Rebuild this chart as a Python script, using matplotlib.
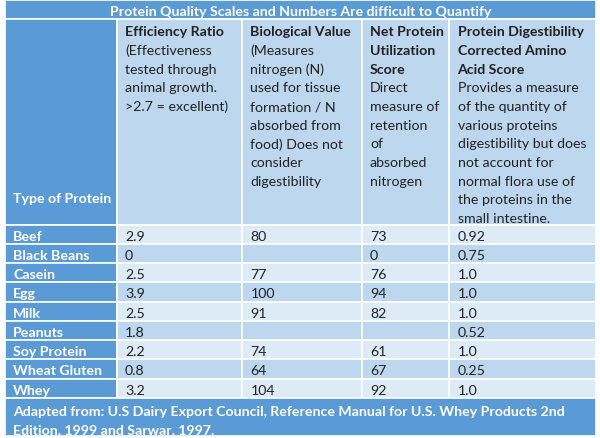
import matplotlib.pyplot as plt
from matplotlib.patches import Rectangle

plt.rcParams['font.family'] = ['Lato', 'DejaVu Sans']

title = "Protein Quality Scales and Numbers Are difficult to Quantify"
footer = ["Adapted from: U.S Dairy Export Council, Reference Manual for U.S. Whey Products 2nd",
          "Edition, 1999 and Sarwar, 1997."]

proteins = ["Beef", "Black Beans", "Casein", "Egg", "Milk", "Peanuts",
            "Soy Protein", "Wheat Gluten", "Whey"]
per = ["2.9", "0", "2.5", "3.9", "2.5", "1.8", "2.2", "0.8", "3.2"]
bv = ["80", "", "77", "100", "91", "", "74", "64", "104"]
npu = ["73", "0", "76", "94", "82", "", "61", "67", "92"]
pdcaas = ["0.92", "0.75", "1.0", "1.0", "1.0", "0.52", "1.0", "0.25", "1.0"]

# header: (bold lines, normal lines)
headers = [
    (["Efficiency Ratio"],
     ["(Effectiveness", "tested through", "animal growth.", ">2.7 = excellent)"]),
    (["Biological Value"],
     ["(Measures", "nitrogen (N)", "used for tissue", "formation / N", "absorbed from",
      "food) Does not", "consider", "digestibility"]),
    (["Net Protein", "Utilization", "Score"],
     ["Direct", "measure of", "retention", "of", "absorbed", "nitrogen"]),
    (["Protein Digestibility", "Corrected Amino", "Acid Score"],
     ["Provides a measure", "of the quantity of", "various proteins",
      "digestibility but does", "not account for", "normal flora use of",
      "the proteins in the", "small intestine."]),
]

BLUE = "#5b9bd5"
HEAD = "#bdd7ee"
LIGHT = "#ddebf7"
TXT = "#222222"
FS = 10.2
DY = 1.5  # baseline nudge

W, H = 600, 439
fig = plt.figure(figsize=(W / 100, H / 100), dpi=100)
ax = fig.add_axes([0, 0, 1, 1])
ax.set_xlim(0, W)
ax.set_ylim(H, 0)
ax.axis('off')

col_x = [5, 116.5, 242, 361.5, 449, 596]
top, head_top, head_bot = 1, 19.5, 225.5
row_h = 19.25
foot_bot = 437


def cell(x0, y0, x1, y1, color):
    ax.add_patch(Rectangle((x0, y0), x1 - x0, y1 - y0, facecolor=color,
                           edgecolor="white", linewidth=1.2))


# title
cell(col_x[0], top, col_x[-1], head_top, BLUE)
ax.text((col_x[0] + col_x[-1]) / 2, 10.5 + DY, title, color="white", fontsize=FS,
        fontweight="bold", ha="center", va="center")

# header
cell(col_x[0], head_top, col_x[1], head_bot, BLUE)
ax.text(col_x[0] + 8, 198 + DY, "Type of Protein", color="white", fontsize=FS,
        fontweight="bold", ha="left", va="center")
line_h = 18.65
for i, (bold, normal) in enumerate(headers):
    cell(col_x[i + 1], head_top, col_x[i + 2], head_bot, HEAD)
    y = 31 + DY
    for ln in bold:
        ax.text(col_x[i + 1] + 8.5, y, ln, color=TXT, fontsize=FS,
                fontweight="bold", ha="left", va="center")
        y += line_h
    for ln in normal:
        ax.text(col_x[i + 1] + 8.5, y, ln, color=TXT, fontsize=FS,
                ha="left", va="center")
        y += line_h

# data rows
columns = [per, bv, npu, pdcaas]
for r, name in enumerate(proteins):
    y0 = head_bot + r * row_h
    y1 = y0 + row_h
    yc = (y0 + y1) / 2 + DY
    cell(col_x[0], y0, col_x[1], y1, BLUE)
    ax.text(col_x[0] + 8, yc, name, color="white", fontsize=FS,
            fontweight="bold", ha="left", va="center")
    bg = LIGHT if r % 2 == 0 else HEAD
    for c, vals in enumerate(columns):
        cell(col_x[c + 1], y0, col_x[c + 2], y1, bg)
        ax.text(col_x[c + 1] + 8.5, yc, vals[r], color=TXT, fontsize=FS,
                ha="left", va="center")

# footer
fy0 = head_bot + len(proteins) * row_h
cell(col_x[0], fy0, col_x[-1], foot_bot, BLUE)
for k, ln in enumerate(footer):
    ax.text(col_x[0] + 8, fy0 + 11.5 + DY + k * 18.5, ln, color="white", fontsize=FS,
            fontweight="bold", ha="left", va="center")

fig.savefig("out.png", dpi=100, facecolor="white")
